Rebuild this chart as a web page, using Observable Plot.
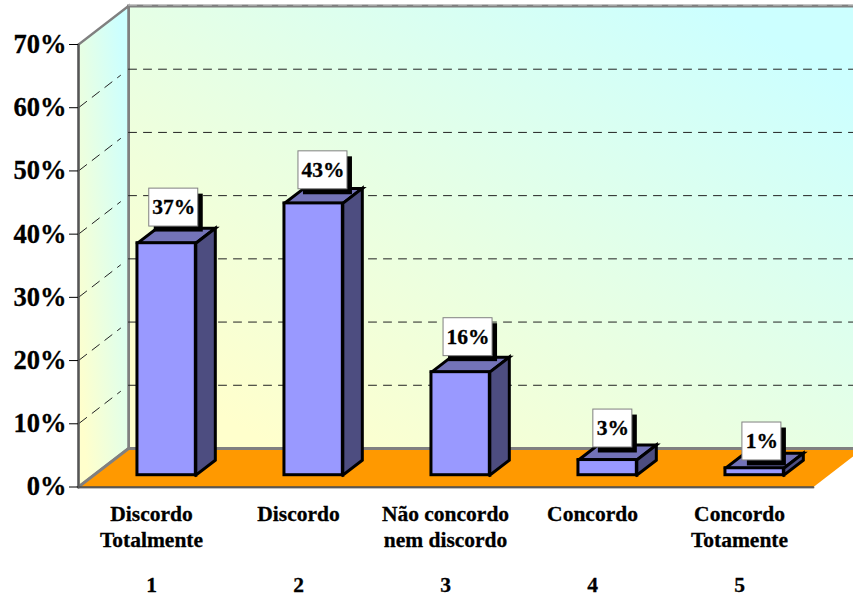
<!DOCTYPE html>
<html>
<head>
<meta charset="utf-8">
<style>
html,body{margin:0;padding:0;background:#fff}
svg{display:block;overflow:hidden}
svg text{stroke:#000;stroke-width:.3px}
</style>
<script src="https://cdn.jsdelivr.net/npm/d3@7"></script>
<script src="https://cdn.jsdelivr.net/npm/@observablehq/plot@0.6"></script>
</head>
<body>
<div id="chart"></div>
<script>
// Data
const categories = ["Discordo\nTotalmente", "Discordo", "Não concordo\nnem discordo", "Concordo", "Concordo\nTotamente"];
const codes = ["1", "2", "3", "4", "5"];
const values = [36.7, 43, 16.3, 2.4, 1.1];
const valueLabels = ["37%", "43%", "16%", "3%", "1%"];
const yTicks = [0, 10, 20, 30, 40, 50, 60, 70];
const gridValues = [10, 20, 30, 40, 50, 60];

// Oblique projection, in data units: depth 1 moves right and up
const depthX = 50 / 147, depthY = 38.5 / 6.32;
const project = (x, z, y) => ({x: x + z * depthX, y: y + z * depthY});
const poly = (id, pts) => {
  const closed = [...pts, pts[0]];
  return closed.map(([x, z, y]) => ({id, ...project(x, z, y)}));
};
const xMax = categories.length;
const yMax = yTicks[yTicks.length - 1];

const backWall = poly("back", [[0, 1, 0], [xMax, 1, 0], [xMax, 1, yMax], [0, 1, yMax]]);
const sideWall = poly("side", [[0, 0, 0], [0, 1, 0], [0, 1, yMax], [0, 0, yMax]]);
const floor = poly("floor", [[0, 0, 0], [xMax, 0, 0], [xMax, 1, 0], [0, 1, 0]]);

const gridBack = gridValues.flatMap(v => [0, xMax].map(x => ({id: v, ...project(x, 1, v)})));
const gridSide = gridValues.flatMap(v => [0.02, 0.84].map(z => ({id: v, ...project(0, z, v)})));
const topDash = [0, xMax].map(x => ({...project(x, 1, yMax)}));

// Bars: position inside each category and depth span on the floor
const barStart = 0.297, barWidth = 0.397, zFront = 0.306, zBack = 0.696;
const bars = values.map((v, i) => {
  const a = i + barStart, b = a + barWidth, top = v;
  return {i, v, a, b, top};
});
const fronts = bars.map(d => ({
  x1: project(d.a, zFront, 0).x, x2: project(d.b, zFront, 0).x,
  y1: project(0, zFront, 0).y, y2: project(0, zFront, d.top).y
}));
const tops = bars.flatMap(d => poly("t" + d.i, [[d.a, zFront, d.top], [d.b, zFront, d.top], [d.b, zBack, d.top], [d.a, zBack, d.top]]));
const sides = bars.flatMap(d => poly("s" + d.i, [[d.b, zFront, 0], [d.b, zBack, 0], [d.b, zBack, d.top], [d.b, zFront, d.top]]));

// Value labels: boxes sit above each bar (offsets in data units)
const labelShiftX = [0.648, 0.663, 0.650, 0.635, 0.649];
const labelLift = [7.5, 7.1, 7.4, 6.85, 6.1];
const boxHalfH = 3.0;
const labels = values.map((v, i) => {
  const hw = (valueLabels[i].length === 3 ? 49 : 39) / 147 / 2;
  const cx = i + labelShiftX[i], cy = v + labelLift[i];
  return {text: valueLabels[i], x1: cx - hw, x2: cx + hw, y1: cy - boxHalfH, y2: cy + boxHalfH, cx, cy};
});

const lineOpts = {x: "x", y: "y", z: "id", strokeLinejoin: "miter", strokeMiterlimit: 10, strokeLinecap: "square"};
const centres = categories.map((_, i) => i + 0.5);

const defs = () => d3.create("svg:defs").html(`
  <linearGradient id="wallGrad" x1="0" y1="1" x2="1" y2="0">
    <stop offset="0.1" stop-color="#FFFFCC"/>
    <stop offset="0.9" stop-color="#CCFFFF"/>
  </linearGradient>`).node();

const chart = Plot.plot({
  width: 853,
  height: 598,
  marginLeft: 78,
  marginRight: 0,
  marginTop: 44,
  marginBottom: 111.5,
  x: {domain: [0, 775 / 147], axis: null},
  y: {domain: [0, yMax], axis: null},
  style: {fontFamily: "'Liberation Serif', serif", fontWeight: "bold", background: "#fff", color: "#000"},
  marks: [
    defs,
    Plot.line(backWall, {...lineOpts, fill: "url(#wallGrad)", stroke: "#808080", strokeWidth: 3}),
    Plot.line(sideWall, {...lineOpts, fill: "url(#wallGrad)", stroke: "#808080", strokeWidth: 2.5}),
    Plot.line(floor, {...lineOpts, fill: "#FF9900", stroke: "none"}),
    Plot.line(poly("e", [[0, 0, 0], [0, 1, 0], [xMax, 1, 0]]).slice(0, 3), {...lineOpts, stroke: "#808080", strokeWidth: 3}),
    Plot.line([project(0, 0, 0), project(xMax, 0, 0)], {x: "x", y: "y", stroke: "#808080", strokeWidth: 2, dy: 0.5}),
    Plot.line([project(0, 0, 0), project(xMax, 0, 0)], {x: "x", y: "y", stroke: "#333", strokeWidth: 1}),
    Plot.line(topDash, {x: "x", y: "y", stroke: "#ccc", strokeWidth: 1, strokeDasharray: "8 7", dy: -1}),
    Plot.line(gridBack, {x: "x", y: "y", z: "id", stroke: "#222", strokeWidth: 1, strokeDasharray: "8 7"}),
    Plot.line(gridSide, {x: "x", y: "y", z: "id", stroke: "#222", strokeWidth: 1, strokeDasharray: "9 7"}),
    Plot.line([project(0, 0, 0), project(0, 0, yMax)], {x: "x", y: "y", stroke: "#555", strokeWidth: 2}),
    Plot.axisY({ticks: yTicks, tickFormat: d => d + "%", tickSize: 9, tickPadding: 3, fontSize: 26.5, fontWeight: "bold", label: null, stroke: "#000"}),
    Plot.axisX({ticks: centres, tickFormat: (d, i) => categories[i], tickSize: 0, tickPadding: 15, fontSize: 21.5, fontWeight: "bold", lineHeight: 1.235, label: null, dx: -0.5}),
    Plot.axisX({ticks: centres, tickFormat: (d, i) => codes[i], tickSize: 0, tickPadding: 90, fontSize: 21.5, fontWeight: "bold", label: null, dx: -0.5}),
    Plot.line(tops, {...lineOpts, fill: "#7373B8", stroke: "#000", strokeWidth: 3}),
    Plot.line(sides, {...lineOpts, fill: "#4D4D80", stroke: "#000", strokeWidth: 3}),
    Plot.rect(fronts, {x1: "x1", x2: "x2", y1: "y1", y2: "y2", fill: "#9999FF", stroke: "#000", strokeWidth: 3}),
    Plot.rect(labels, {x1: "x1", x2: "x2", y1: "y1", y2: "y2", fill: "#000", dx: 5, dy: 5.5}),
    Plot.rect(labels, {x1: "x1", x2: "x2", y1: "y1", y2: "y2", fill: "#fff", stroke: "#808080", strokeWidth: 1}),
    Plot.text(labels, {x: "cx", y: "cy", text: "text", fontSize: 21.5, fontWeight: "bold", fill: "#000"})
  ]
});
document.getElementById("chart").append(chart);
</script>
</body>
</html>
